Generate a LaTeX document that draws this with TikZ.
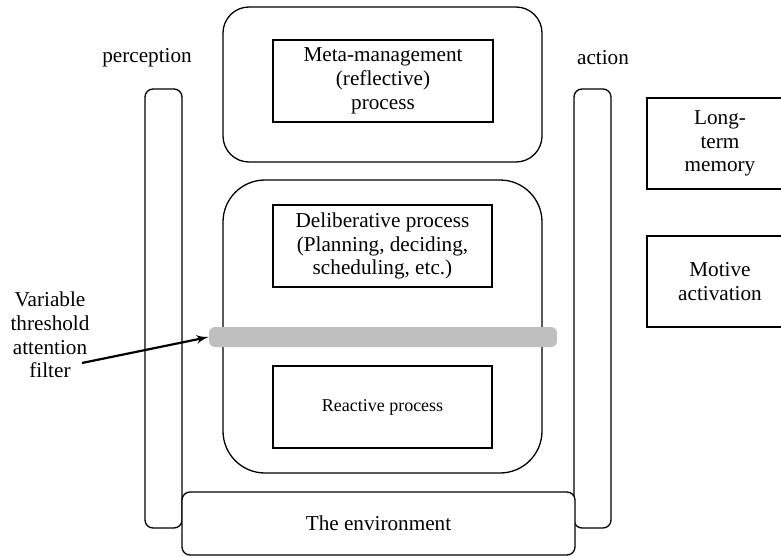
\documentclass[tikz,border=0pt]{standalone}
\usepackage{fontspec}
\setmainfont{Liberation Serif}
\usepackage{tikz}
\usetikzlibrary{arrows}
\tikzset{
    tnode/.style = {align=center, inner sep=0pt, text centered, font=\fontsize{10.6}{11.9}\selectfont},
    procbox/.style = {tnode, rectangle, draw=black, line width=0.65pt, minimum width=110pt, minimum height=41pt},
    layerbox/.style = {tnode, rectangle, draw=black, line width=0.65pt, minimum width=159.5pt},
    colbox/.style = {tnode, rectangle, draw=black, line width=0.65pt, rounded corners=4pt, minimum width=18.5pt, minimum height=219.5pt},
    sidebox/.style = {tnode, rectangle, draw=black, line width=0.65pt, minimum width=73pt, minimum height=45.5pt},
    filterbar/.style = {tnode, rectangle, fill=black!25, rounded corners=3pt, minimum width=174pt, minimum height=10pt}
}

\begin{document}
\begin{tikzpicture}
            [x=0.5pt, y=-0.5pt, ->, >=latex']

            \useasboundingbox (0,0) rectangle (781,556);
            \clip (0,0) rectangle (781,556);

            % the three layers
            \node [layerbox, rounded corners=13pt, minimum height=77.5pt] (metalayer) at (382.5,84.5) {};
            \node [procbox] (meta) at (383,81) {Meta-management\\(reflective)\\process};
            \node [layerbox, rounded corners=21pt, minimum height=146.5pt] (lowlayer) at (382.5,326.5) {};
            \node [procbox, minimum width=109.5pt] (delib) at (382.5,246) {Deliberative process\\(Planning, deciding,\\scheduling, etc.)};
            \node [procbox, minimum width=109.5pt, font=\fontsize{9}{11}\selectfont] (react) at (382.5,407) {Reactive process};
            \node [filterbar] (filter) at (383,337) {};

            % perception and action columns
            \node [colbox] (percol) at (163.5,308.5) {};
            \node [colbox] (actcol) at (592.5,308.5) {};
            \node [tnode] (perlbl) at (147,58) {perception};
            \node [tnode] (actlbl) at (603,58) {action};
            \node [colbox, fill=white, minimum width=196.5pt, minimum height=31.5pt] (env) at (378.5,523.5) {The environment};

            % right hand side
            \node [sidebox] (ltm) at (720,143.5) {Long-\\term\\memory};
            \node [sidebox] (motive) at (720,281.5) {Motive\\activation};

            % filter label
            \node [tnode] (filterlbl) at (50,335) {Variable\\threshold\\attention\\filter};
            \coordinate (filtertail) at (82,363);
            \draw [line width=1.1pt] (filtertail) -- (filter.west);
\end{tikzpicture}
\end{document}
